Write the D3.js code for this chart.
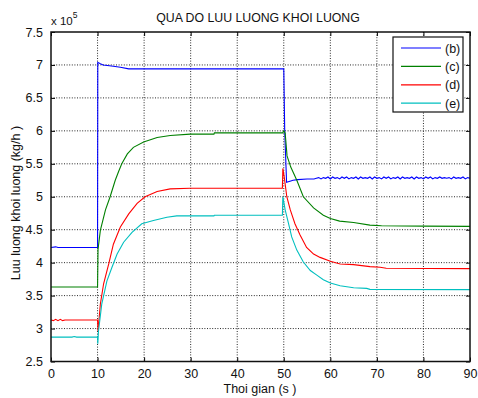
<!DOCTYPE html>
<html>
<head>
<meta charset="utf-8">
<script src="https://cdn.jsdelivr.net/npm/d3@7"></script>
<style>
  body { margin: 0; background: #fff; }
  svg { display: block; font-family: "Liberation Sans", Arial, sans-serif; }
</style>
</head>
<body>
<svg id="chart" width="478" height="398"></svg>
<script>
// values (y in units of 1e5 kg/h, x in seconds)
const xTicks = [0, 10, 20, 30, 40, 50, 60, 70, 80, 90];
const yTicks = [2.5, 3, 3.5, 4, 4.5, 5, 5.5, 6, 6.5, 7, 7.5];
const seriesNames = ["(b)", "(c)", "(d)", "(e)"];
const seriesColors = ["#0000ff", "#008000", "#ff0000", "#00bfbf"];

const blueHead = [
  [0, 4.23], [1, 4.24], [1.5, 4.23], [10, 4.23], [10.05, 7.04], [10.6, 7.02],
  [11.2, 7.0], [13.4, 6.98], [14.9, 6.965], [16.7, 6.94], [50, 6.94],
  [50.2, 6.0], [50.6, 5.22], [51.5, 5.24], [52, 5.25], [53, 5.26], [55, 5.27], [56.5, 5.27]
];
// noisy tail of (b), sampled every 0.5 s from 57 s
const blueTailStart = 57;
const blueTailStep = 0.5;
const blueTail = [
  5.28, 5.29, 5.27, 5.29, 5.28, 5.30, 5.27, 5.30, 5.28, 5.29, 5.27, 5.30, 5.28, 5.30,
  5.27, 5.29, 5.28, 5.30, 5.27, 5.30, 5.28, 5.29, 5.28, 5.30, 5.27, 5.30, 5.28, 5.29,
  5.27, 5.30, 5.28, 5.30, 5.27, 5.29, 5.28, 5.30, 5.27, 5.30, 5.28, 5.29, 5.28, 5.30,
  5.27, 5.30, 5.28, 5.29, 5.27, 5.30, 5.28, 5.30, 5.27, 5.29, 5.28, 5.30, 5.28, 5.29,
  5.28, 5.29, 5.27, 5.30, 5.28, 5.29, 5.28, 5.30, 5.27, 5.29, 5.28
];

const green = [
  [0, 3.63], [10, 3.63], [10.1, 4.2], [10.6, 4.49], [11.7, 4.8], [12.7, 5.0],
  [13.8, 5.25], [14.5, 5.38], [15.2, 5.5], [16.4, 5.65], [17.7, 5.75], [19.9, 5.83],
  [22.8, 5.9], [25.6, 5.93], [29.9, 5.95], [35, 5.95], [35.1, 5.97], [49.8, 5.97],
  [50, 6.0], [50.3, 5.97], [50.7, 5.62], [51.5, 5.45], [52.8, 5.25], [54.2, 5.0],
  [56.4, 4.83], [58.5, 4.72], [60, 4.67], [62, 4.63], [65, 4.61], [68.5, 4.57],
  [71, 4.56], [80, 4.555], [90, 4.55]
];

const red = [
  [0, 3.13], [0.5, 3.12], [1, 3.14], [1.5, 3.12], [2, 3.14], [2.5, 3.12], [3, 3.13],
  [10, 3.13], [10.1, 2.96], [10.6, 3.37], [11.3, 3.68], [12.4, 3.98], [13.4, 4.28],
  [14.9, 4.54], [16.7, 4.74], [18.5, 4.9], [20.2, 5.0], [22.8, 5.08], [25.6, 5.12],
  [29.9, 5.13], [49.7, 5.13], [49.8, 5.43], [50.1, 5.3], [50.65, 5.0], [51.4, 4.8],
  [52.4, 4.59], [53.5, 4.42], [54.9, 4.23], [56.4, 4.13], [57.8, 4.08], [60, 4.02],
  [62.1, 3.98], [65, 3.97], [68.5, 3.94], [70.7, 3.93], [72, 3.915], [90, 3.91]
];

const cyan = [
  [0, 2.87], [4.5, 2.87], [5, 2.88], [5.5, 2.87], [10, 2.87], [10.05, 2.77],
  [10.2, 2.96], [10.9, 3.37], [12, 3.72], [13.1, 3.93], [14.2, 4.13], [15.6, 4.31],
  [17.4, 4.46], [19.5, 4.59], [22, 4.64], [24.9, 4.69], [27, 4.71], [35, 4.71],
  [35.1, 4.72], [49.7, 4.72], [49.8, 5.0], [50.3, 4.8], [51, 4.6], [51.7, 4.39],
  [52.8, 4.19], [54.2, 4.01], [55.7, 3.88], [57.1, 3.81], [58.5, 3.74], [60, 3.69],
  [62.1, 3.65], [65, 3.62], [67.8, 3.61], [68.5, 3.595], [90, 3.59]
];

const blue = blueHead.concat(blueTail.map((v, i) => [blueTailStart + i * blueTailStep, v]));
const allSeries = [blue, green, red, cyan];

const svg = d3.select("#chart");
const plot = { left: 51, right: 470, top: 32, bottom: 361.5 };

const x = d3.scaleLinear().domain([0, 90]).range([plot.left, plot.right]);
const y = d3.scaleLinear().domain([2.5, 7.5]).range([plot.bottom, plot.top]);

svg.append("rect")
  .attr("x", plot.left).attr("y", plot.top)
  .attr("width", plot.right - plot.left).attr("height", plot.bottom - plot.top)
  .attr("fill", "#fff");

// dotted grid
const grid = svg.append("g").attr("stroke", "#111").attr("stroke-dasharray", "1,1.6").attr("stroke-width", 0.9);
grid.selectAll(".gx").data(xTicks.slice(1, -1)).enter().append("line")
  .attr("x1", d => x(d)).attr("x2", d => x(d))
  .attr("y1", plot.top).attr("y2", plot.bottom);
grid.selectAll(".gy").data(yTicks.slice(1, -1)).enter().append("line")
  .attr("y1", d => y(d)).attr("y2", d => y(d))
  .attr("x1", plot.left).attr("x2", plot.right);

// curves
const line = d3.line().x(d => x(d[0])).y(d => y(d[1]));
svg.append("g").selectAll("path").data(allSeries).enter().append("path")
  .attr("d", line)
  .attr("fill", "none")
  .attr("stroke", (d, i) => seriesColors[i])
  .attr("stroke-width", 1.1);

// axes with inward ticks
const fmt = d => String(d);
svg.append("g").attr("transform", `translate(0,${plot.bottom})`)
  .call(d3.axisBottom(x).tickValues(xTicks).tickSizeInner(-4).tickSizeOuter(0).tickPadding(8).tickFormat(fmt));
svg.append("g").attr("transform", `translate(0,${plot.top})`)
  .call(d3.axisTop(x).tickValues(xTicks).tickSizeInner(-4).tickSizeOuter(0).tickFormat(""));
svg.append("g").attr("transform", `translate(${plot.left},0)`)
  .call(d3.axisLeft(y).tickValues(yTicks).tickSizeInner(-4).tickSizeOuter(0).tickPadding(8).tickFormat(fmt));
svg.append("g").attr("transform", `translate(${plot.right},0)`)
  .call(d3.axisRight(y).tickValues(yTicks).tickSizeInner(-4).tickSizeOuter(0).tickFormat(""));

svg.selectAll(".domain").remove();
svg.selectAll(".tick line").attr("stroke", "#000");
svg.selectAll(".tick text").attr("font-size", 12.5).attr("fill", "#111").attr("font-family", "Liberation Sans, Arial, sans-serif");

svg.append("rect")
  .attr("x", plot.left).attr("y", plot.top)
  .attr("width", plot.right - plot.left).attr("height", plot.bottom - plot.top)
  .attr("fill", "none").attr("stroke", "#111").attr("stroke-width", 1.5);

// exponent label
const expo = svg.append("text").attr("x", plot.left).attr("y", 25).attr("font-size", 11.5).attr("fill", "#111");
expo.append("tspan").text("x 10");
expo.append("tspan").attr("dy", -7).attr("font-size", 8.5).text("5");

// title and axis labels
svg.append("text").attr("x", 258).attr("y", 22).attr("text-anchor", "middle")
  .attr("font-size", 12.3).attr("fill", "#111").text("QUA DO LUU LUONG KHOI LUONG");
svg.append("text").attr("x", 260).attr("y", 393).attr("text-anchor", "middle")
  .attr("font-size", 12.5).attr("fill", "#111").text("Thoi gian (s )");
svg.append("text").attr("transform", "translate(20,203) rotate(-90)").attr("text-anchor", "middle")
  .attr("font-size", 12.5).attr("fill", "#111").text("Luu luong khoi luong (kg/h )");

// legend
const lg = svg.append("g").attr("transform", "translate(393,37)");
lg.append("rect").attr("width", 70).attr("height", 75).attr("fill", "#fff").attr("stroke", "#111").attr("stroke-width", 1.2);
const items = lg.selectAll(".item").data(seriesNames).enter().append("g")
  .attr("transform", (d, i) => `translate(0,${11 + i * 18.4})`);
items.append("line").attr("x1", 8).attr("x2", 48).attr("y1", 0).attr("y2", 0)
  .attr("stroke", (d, i) => seriesColors[i]).attr("stroke-width", 1.2);
items.append("text").attr("x", 52).attr("y", 4.5).attr("font-size", 12.5).attr("fill", "#111").text(d => d);
</script>
</body>
</html>
